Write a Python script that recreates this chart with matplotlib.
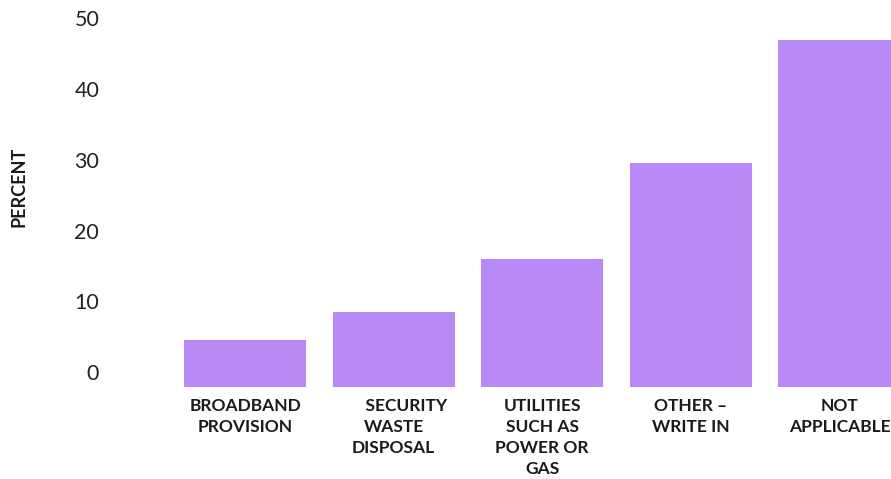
import matplotlib.pyplot as plt
import matplotlib.transforms as mtransforms

categories = [
    "BROADBAND\nPROVISION",
    "      SECURITY\nWASTE\nDISPOSAL",
    "UTILITIES\nSUCH AS\nPOWER OR\nGAS",
    "OTHER \u2013\nWRITE IN",
    "NOT\nAPPLICABLE",
]
percent = [6.6, 10.6, 18.1, 31.6, 49.0]
yticks = [0, 10, 20, 30, 40, 50]

plt.rcParams["font.family"] = ["Lato", "DejaVu Sans"]

fig = plt.figure(figsize=(8.91, 4.79), dpi=100)
ax = fig.add_axes([0.1082, 0.1927, 0.9173, 0.738])

x = list(range(len(percent)))
ax.bar(x, percent, width=0.82, color="#b98af6")
ax.set_xlim(-1.0, 4.5)
ax.set_ylim(0, 50)

for s in ax.spines.values():
    s.set_visible(False)
ax.set_xticks([])
ax.set_yticks([])

# y labels sit just above their value line
ylab_tr = ax.get_yaxis_transform() + mtransforms.ScaledTranslation(2 / 72, 2 / 72, fig.dpi_scale_trans)
for t in yticks:
    ax.text(0, t, str(t), transform=ylab_tr, ha="right", va="bottom",
            fontsize=15.5, color="#222222")

# category labels under the bars
cat_tr = ax.get_xaxis_transform() + mtransforms.ScaledTranslation(0, -8 / 72, fig.dpi_scale_trans)
for xi, lbl in zip(x, categories):
    ax.text(xi, 0, lbl, transform=cat_tr, ha="center", va="top",
            fontsize=12.5, fontweight="bold", color="#1a1a1a",
            linespacing=1.4, clip_on=False)

fig.text(18.5 / 891, 1 - 186.7 / 479, "PERCENT", rotation=90, ha="center", va="center",
         fontsize=13, fontweight="bold", color="#1a1a1a")

fig.savefig("out.png", dpi=100)
